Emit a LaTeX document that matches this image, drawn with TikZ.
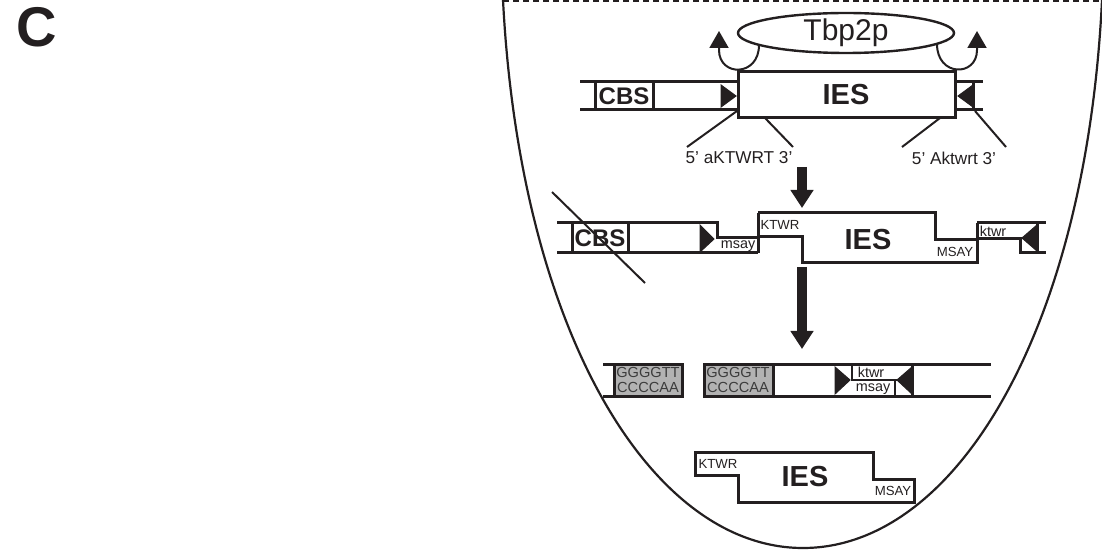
\documentclass[tikz,border=0pt]{standalone}
\usepackage{fontspec}
\setmainfont{Liberation Sans}
\usetikzlibrary{arrows.meta,shapes.geometric}
\definecolor{ink}{RGB}{35,31,32}
\definecolor{capfill}{RGB}{178,178,178}
\definecolor{captext}{RGB}{60,60,60}

\begin{document}
\begin{tikzpicture}[x=0.5pt,y=-0.5pt,
  strand/.style={draw=ink,line width=1.5pt},
  thin/.style={draw=ink,line width=1pt},
  site/.style={fill=ink,draw=ink,line width=0.5pt},
  telobox/.style={fill=capfill,draw=ink,line width=1.5pt},
  bigarrow/.style={draw=ink,line width=5pt,-{Triangle[width=11pt,length=9pt]}},
  tag/.style={inner sep=0pt,text=ink,font=\fontsize{6.6}{7}\selectfont},
  lowtag/.style={inner sep=0pt,text=ink,font=\fontsize{7.2}{7}\selectfont},
  iestext/.style={inner sep=0pt,text=ink,font=\fontsize{14.5}{15}\selectfont\bfseries},
  cbstext/.style={inner sep=0pt,text=ink,font=\fontsize{12}{13}\selectfont\bfseries},
  motif/.style={inner sep=0pt,text=ink,font=\fontsize{8.6}{9}\selectfont},
  telo/.style={inner sep=0pt,text=captext,align=center,font=\fontsize{7.3}{7.5}\selectfont}]
  \useasboundingbox (0,0) rectangle (1102,550);

  % panel letter
  \node[inner sep=0pt,text=ink,font=\fontsize{28}{30}\selectfont\bfseries] (panel) at (37,27) {C};

  % cell outline
  \draw[ink,line width=0.7pt,dash pattern=on 3pt off 2pt] (503,1) -- (1101,1);
  \draw[ink,line width=1.1pt] (503,0) .. controls (520,330) and (650,548) .. (803,548)
    .. controls (956,548) and (1086,330) .. (1102,0);

  % row 1: Tbp2p bound to the IES
  \draw[strand] (580,82) -- (738,82);
  \draw[strand] (580,110) -- (738,110);
  \draw[strand] (955,82) -- (983,82);
  \draw[strand] (955,110) -- (983,110);
  \draw[strand] (595,82) rectangle (653,110);
  \node[cbstext] (cbs1) at (624,96) {CBS};
  \draw[site] (721,85) -- (736,96) -- (721,107) -- cycle;
  \draw[site] (973,85) -- (958,96) -- (973,107) -- cycle;
  \draw[strand] (973,82) -- (973,110);
  \draw[strand] (738,72) rectangle (955,118);
  \node[iestext] (ies1) at (846,95) {IES};
  \node[ellipse,draw=ink,line width=1.2pt,minimum width=108pt,minimum height=20pt,
    inner sep=0pt,text=ink,font=\fontsize{15}{16}\selectfont] (tbp) at (846,33) {Tbp2p};
  \draw[thin,-{Triangle[width=9.5pt,length=8.5pt]}] (759,45) .. controls (759,77) and (719,77) .. (719,50) -- (719,31);
  \draw[thin,-{Triangle[width=9.5pt,length=8.5pt]}] (937,44) .. controls (937,77) and (977,77) .. (977,50) -- (977,31);

  % motifs at the ends
  \draw[thin] (737,111) -- (687,147);
  \draw[thin] (765,118) -- (793,147);
  \draw[thin] (940,118) -- (902,147);
  \draw[thin] (975,111) -- (1006,147);
  \node[motif] (m1) at (739,158) {5’ aKTWRT 3’};
  \node[motif] (m2) at (954,158) {5’ Aktwrt 3’};

  \coordinate (a1s) at (802,167);
  \coordinate (a1e) at (802,208);
  \draw[bigarrow] (a1s) -- (a1e);

  % row 2: staggered cut
  \draw[strand] (557,223) -- (717,223) -- (717,238) -- (758,238);
  \draw[strand] (557,253) -- (758,253);
  \draw[strand] (758,213) -- (758,253);
  \draw[strand] (572,223) rectangle (628,253);
  \node[cbstext] (cbs2) at (600,238) {CBS};
  \draw[site] (700,225) -- (714,239) -- (700,252) -- cycle;
  \node[lowtag] (s1) at (738,246) {msay};
  \draw[strand] (758,213) -- (935,213) -- (935,240) -- (977,240) -- (977,263) -- (802,263) -- (802,237) -- (758,237);
  \node[tag] (k1) at (780,225) {KTWR};
  \node[iestext] (ies2) at (868,240) {IES};
  \node[tag] (s2) at (955,252) {MSAY};
  \draw[strand] (977,223) -- (1046,223);
  \draw[strand] (977,223) -- (977,240);
  \draw[strand] (977,239) -- (1020,239) -- (1020,253) -- (1046,253);
  \draw[site] (1037,225) -- (1022,238) -- (1037,251) -- cycle;
  \draw[strand] (1037,223) -- (1037,253);
  \node[lowtag] (k2) at (993,231) {ktwr};
  \draw[thin] (552,192) -- (645,283);

  \coordinate (a2s) at (802,267);
  \coordinate (a2e) at (802,349);
  \draw[bigarrow] (a2s) -- (a2e);

  % row 3: healed chromosome and new telomeres
  \draw[strand] (603,365) -- (614,365);
  \draw[strand] (603,396) -- (614,396);
  \draw[telobox] (614,365) rectangle (682,396);
  \node[telo] (t1) at (648,380) {GGGGTT\\CCCCAA};
  \draw[strand] (773,365) -- (991,365);
  \draw[strand] (773,396) -- (991,396);
  \draw[telobox] (704,365) rectangle (773,396);
  \node[telo] (t2) at (738,380) {GGGGTT\\CCCCAA};
  \draw[site] (835,367) -- (850,380) -- (835,394) -- cycle;
  \draw[site] (912,367) -- (897,380) -- (912,394) -- cycle;
  \draw[strand] (912,365) -- (912,396);
  \draw[thin] (852,365) -- (852,380) -- (897,380);
  \draw[thin] (895,380) -- (895,396);
  \node[lowtag] (k3) at (871,372) {ktwr};
  \node[lowtag] (s3) at (873,389) {msay};

  % row 4: excised IES
  \draw[strand] (695,452) -- (873,452) -- (873,479) -- (914,479) -- (914,502) -- (738,502) -- (738,475) -- (695,475) -- cycle;
  \node[tag] (k4) at (718,464) {KTWR};
  \node[iestext] (ies4) at (805,477) {IES};
  \node[tag] (s4) at (893,491) {MSAY};
\end{tikzpicture}
\end{document}
